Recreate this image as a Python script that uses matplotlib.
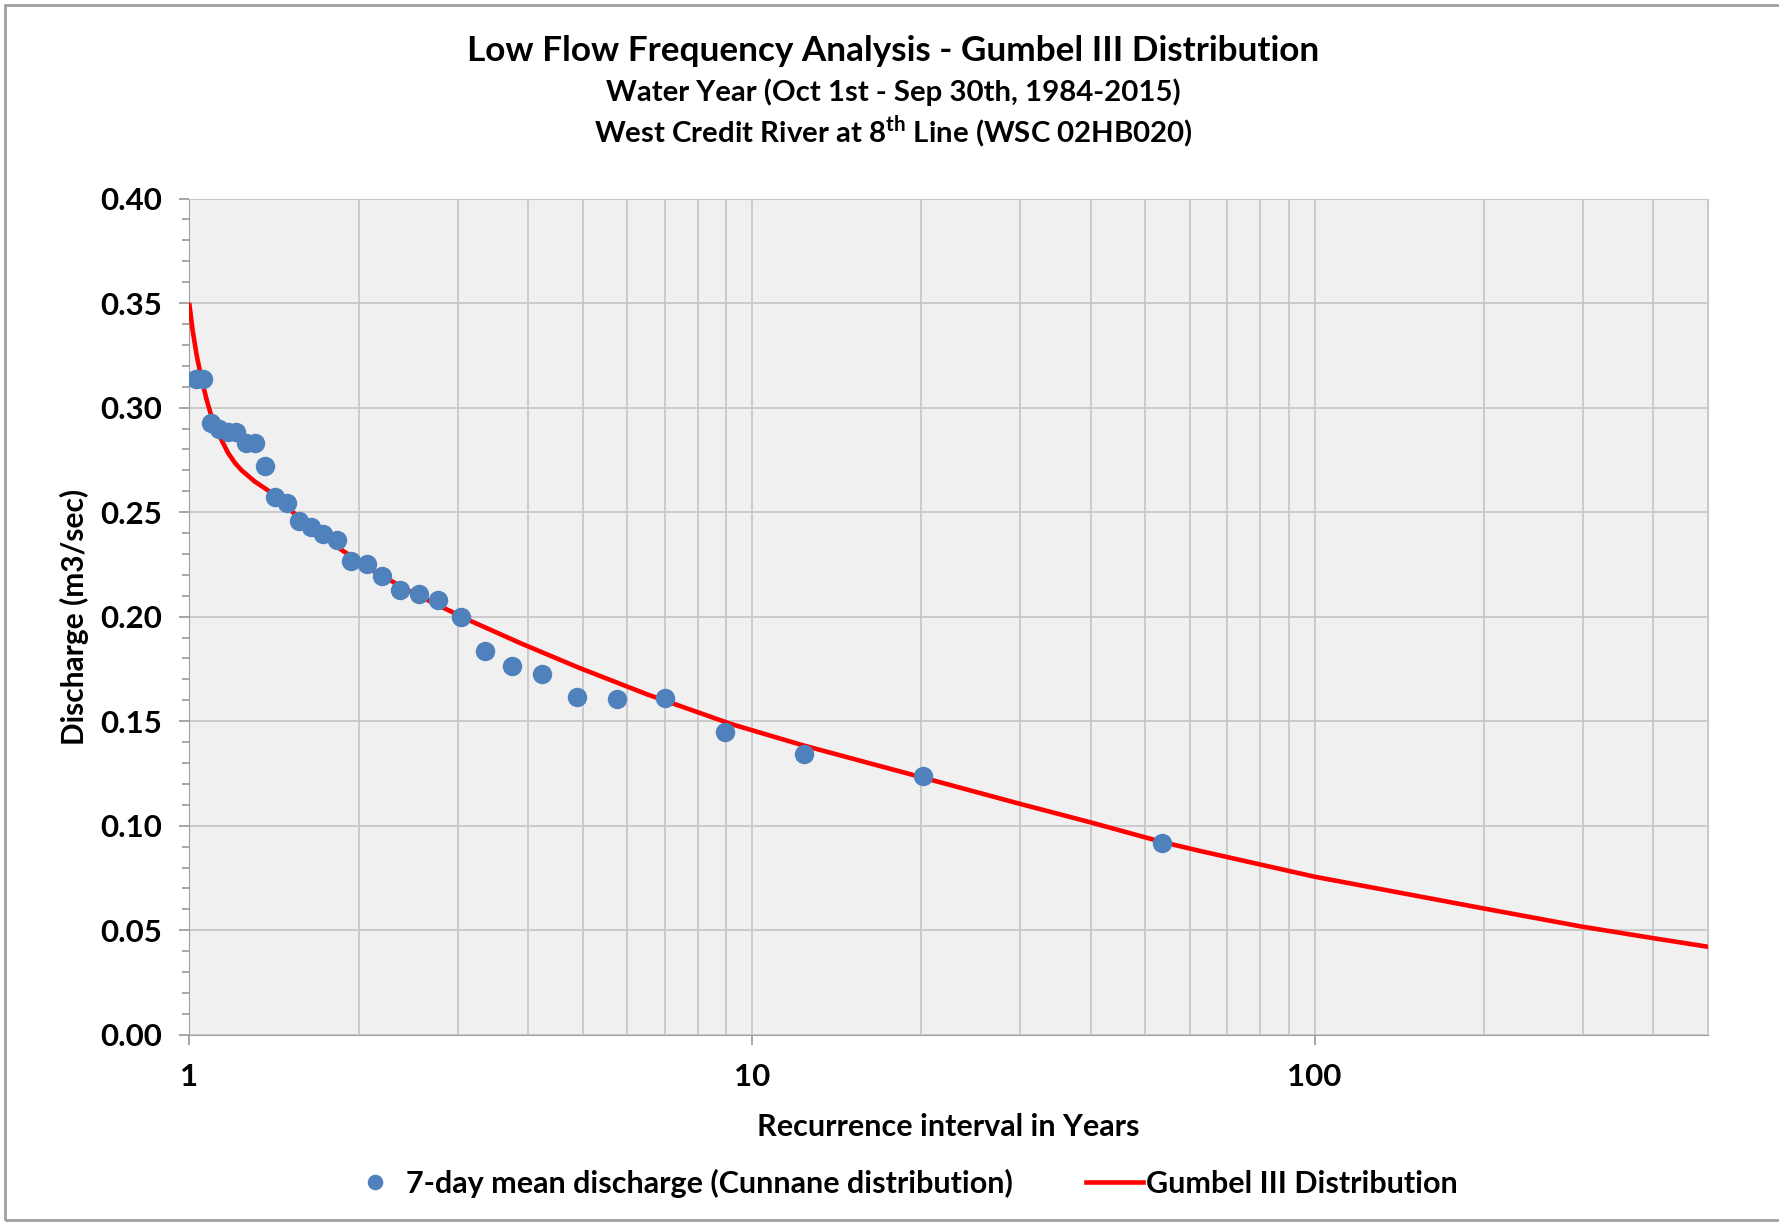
import matplotlib
matplotlib.use("Agg")
import matplotlib.pyplot as plt
from matplotlib.patches import Rectangle
from matplotlib.ticker import LogLocator, MultipleLocator, NullFormatter

plt.rcParams['font.family'] = ['Lato', 'DejaVu Sans']
plt.rcParams['font.weight'] = 'bold'
plt.rcParams['mathtext.fontset'] = 'custom'
plt.rcParams['mathtext.rm'] = 'Lato:bold'

# observed 7-day mean flows, plotted at Cunnane recurrence intervals
obs_T = [1.028, 1.059, 1.093, 1.13, 1.169, 1.212, 1.258, 1.308, 1.364, 1.42,
         1.49, 1.563, 1.643, 1.73, 1.83, 1.94, 2.064, 2.2, 2.368, 2.556,
         2.76, 3.04, 3.35, 3.74, 4.24, 4.88, 5.75, 7.0, 8.94, 12.38,
         20.1, 53.6]
obs_q = [0.3135, 0.3135, 0.2928, 0.2896, 0.2885, 0.2885, 0.2829, 0.2829, 0.2722, 0.2571,
         0.2545, 0.2458, 0.2427, 0.2395, 0.2365, 0.2268, 0.2250, 0.2196, 0.2126, 0.2108,
         0.2078, 0.1997, 0.1835, 0.1766, 0.1724, 0.1614, 0.1606, 0.1609, 0.1447, 0.1343,
         0.1237, 0.0917]

# fitted Gumbel III curve
fit_T = [1.0, 1.013, 1.03, 1.051, 1.073, 1.095, 1.118, 1.145, 1.172, 1.205,
         1.238, 1.307, 1.381, 1.45, 1.518, 1.69, 1.864, 2.135, 2.5, 3.17,
         3.9, 4.91, 6.5, 9.19, 12.3, 18.3, 29.9, 40.1, 53.6, 62.4,
         100, 199, 299, 400, 500]
fit_q = [0.349, 0.337, 0.325, 0.3135, 0.3037, 0.2955, 0.2895, 0.2835, 0.2782, 0.2735,
         0.2700, 0.2646, 0.2603, 0.2555, 0.2505, 0.2405, 0.2319, 0.2215, 0.2112, 0.1978,
         0.1870, 0.1757, 0.1629, 0.1486, 0.1385, 0.1260, 0.1105, 0.1015, 0.0922, 0.0880,
         0.0756, 0.0605, 0.0517, 0.0462, 0.0421]

x_ticks = [1, 10, 100]
x_tick_labels = ['1', '10', '100']

fig = plt.figure(figsize=(17.79, 12.25), dpi=100)
ax = fig.add_axes([0.1065, 0.1553, 0.8535, 0.6826])
ax.set_facecolor('#F0F0F0')

ax.plot(fit_T, fit_q, color='#FF0000', lw=3.3, zorder=3,
        label='Gumbel III Distribution')
ax.plot(obs_T, obs_q, 'o', color='#4F81BD', ms=14, mec='none', zorder=4,
        label='7-day mean discharge (Cunnane distribution)')

ax.set_xscale('log')
ax.set_xlim(1, 500)
ax.set_ylim(0, 0.40)
ax.set_xticks(x_ticks)
ax.set_xticklabels(x_tick_labels)
ax.xaxis.set_minor_locator(LogLocator(base=10, subs=range(2, 10)))
ax.xaxis.set_minor_formatter(NullFormatter())
ax.yaxis.set_major_locator(MultipleLocator(0.05))
ax.yaxis.set_minor_locator(MultipleLocator(0.01))
ax.yaxis.set_major_formatter(plt.FuncFormatter(lambda v, p: '%.2f' % v))

ax.grid(True, which='major', color='#C8C8C8', lw=1.3)
ax.grid(True, which='minor', axis='x', color='#C8C8C8', lw=1.3)
ax.set_axisbelow(True)

ax.tick_params(axis='both', which='major', labelsize=22.5, color='#A0A0A0',
               length=7, width=1.3, pad=13)
ax.tick_params(axis='y', which='minor', color='#A0A0A0', length=5, width=1.3)
ax.tick_params(axis='x', which='minor', length=0)
for s in ax.spines.values():
    s.set_color('#C8C8C8')
ax.spines['left'].set_color('#A0A0A0')
ax.spines['bottom'].set_color('#A0A0A0')

ax.set_xlabel('Recurrence interval in Years', fontsize=22, fontweight='bold', labelpad=16)
ax.set_ylabel('Discharge (m3/sec)', fontsize=21.5, fontweight='bold')
ax.yaxis.set_label_coords(-0.066, 0.5)

fig.text(0.502, 0.958, 'Low Flow Frequency Analysis - Gumbel III Distribution',
         ha='center', va='center', fontsize=25.3, fontweight='bold')
fig.text(0.502, 0.925, 'Water Year (Oct 1st - Sep 30th, 1984-2015)',
         ha='center', va='center', fontsize=21.2, fontweight='bold')
fig.text(0.502, 0.8925, 'West Credit River at 8$^{\\mathrm{th}}$ Line (WSC 02HB020)',
         ha='center', va='center', fontsize=21.2, fontweight='bold')

h, l = ax.get_legend_handles_labels()
fig.legend(h[::-1], l[::-1], loc='center', bbox_to_anchor=(0.507, 0.034), ncol=2,
           frameon=False, fontsize=22, handlelength=1.85, handletextpad=0.1,
           columnspacing=2.4, markerscale=0.8)

fig.patches.append(Rectangle((0.003, 0.004), 1.2, 0.992, transform=fig.transFigure,
                             fill=False, ec='#A0A0A0', lw=2))

fig.savefig('out.png', dpi=100)
